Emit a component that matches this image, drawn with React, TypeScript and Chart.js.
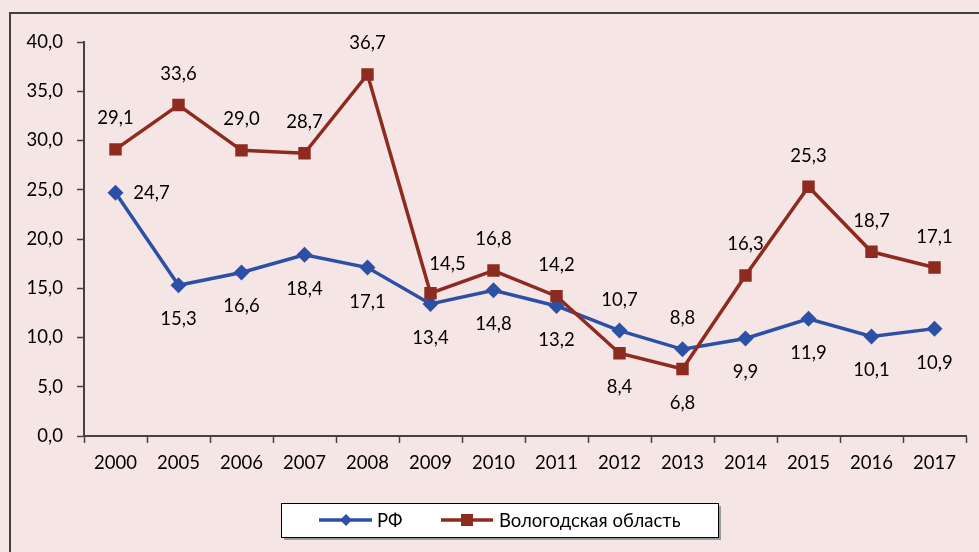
import React, { useEffect, useRef } from "react";
import { Chart, registerables } from "chart.js";

Chart.register(...registerables);

const years = ["2000", "2005", "2006", "2007", "2008", "2009", "2010", "2011", "2012", "2013", "2014", "2015", "2016", "2017"];
const rfValues = [24.7, 15.3, 16.6, 18.4, 17.1, 13.4, 14.8, 13.2, 10.7, 8.8, 9.9, 11.9, 10.1, 10.9];
const vologdaValues = [29.1, 33.6, 29.0, 28.7, 36.7, 14.5, 16.8, 14.2, 8.4, 6.8, 16.3, 25.3, 18.7, 17.1];
const rfLabelPos = ["r", "b", "b", "b", "b", "b", "b", "b", "a", "a", "b", "b", "b", "b"];
const vologdaLabelPos = ["a", "a", "a", "a", "a", "ar", "a", "a", "b", "b", "a", "a", "a", "a"];
const seriesNames = ["РФ", "Вологодская область"];

const BLUE = "#2B50A5";
const RED = "#8E2B1F";
const BG = "#F6E5E5";
const AXIS = "#454045";
const FONT = "Lato, 'Noto Sans', sans-serif";
const FS = 18.5;

const fmt = (v: number) => v.toFixed(1).replace(".", ",");

const bgPlugin = {
  id: "bg",
  beforeDraw(chart: any) {
    const ctx = chart.ctx;
    ctx.save();
    ctx.fillStyle = BG;
    ctx.fillRect(0, 0, chart.width, chart.height);
    ctx.strokeStyle = "#3F3F3F";
    ctx.lineWidth = 2;
    ctx.beginPath();
    ctx.moveTo(10, chart.height + 5);
    ctx.lineTo(10, 13);
    ctx.lineTo(chart.width + 5, 13);
    ctx.stroke();
    ctx.restore();
  },
};

const labelsPlugin = {
  id: "dlabels",
  afterDatasetsDraw(chart: any) {
    const ctx = chart.ctx;
    ctx.save();
    ctx.font = `${FS}px ${FONT}`;
    ctx.fillStyle = "#000";
    ctx.textAlign = "center";
    ctx.textBaseline = "middle";
    chart.data.datasets.forEach((ds: any, di: number) => {
      const meta = chart.getDatasetMeta(di);
      const pos = ds.labelPos as string[];
      meta.data.forEach((pt: any, i: number) => {
        let dx = 0, dy = 0;
        const p = pos[i];
        if (p === "a") dy = -31;
        else if (p === "b") dy = 34;
        else if (p === "r") dx = 36;
        else if (p === "ar") { dx = 17; dy = -29; }
        ctx.fillText(fmt(ds.data[i]), pt.x + dx, pt.y + dy);
      });
    });
    ctx.restore();
  },
};

const legendPlugin = {
  id: "customLegend",
  afterDraw(chart: any) {
    const ctx = chart.ctx;
    ctx.save();
    const x = 281, y = 503, w = 437, h = 34;
    ctx.fillStyle = "#9A9A9A";
    ctx.fillRect(x + 3, y + 3, w, h);
    ctx.fillStyle = "#FFFFFF";
    ctx.fillRect(x, y, w, h);
    ctx.strokeStyle = "#000";
    ctx.lineWidth = 1;
    ctx.strokeRect(x + 0.5, y + 0.5, w, h);
    const cy = y + h / 2;
    ctx.strokeStyle = BLUE;
    ctx.lineWidth = 3.5;
    ctx.beginPath();
    ctx.moveTo(319, cy);
    ctx.lineTo(372, cy);
    ctx.stroke();
    ctx.fillStyle = BLUE;
    ctx.beginPath();
    ctx.moveTo(346 - 6, cy);
    ctx.lineTo(346, cy - 6);
    ctx.lineTo(346 + 6, cy);
    ctx.lineTo(346, cy + 6);
    ctx.closePath();
    ctx.fill();
    ctx.strokeStyle = RED;
    ctx.beginPath();
    ctx.moveTo(441, cy);
    ctx.lineTo(493, cy);
    ctx.stroke();
    ctx.fillStyle = RED;
    ctx.fillRect(467 - 6, cy - 6, 12, 12);
    ctx.fillStyle = "#000";
    ctx.font = `${FS}px ${FONT}`;
    ctx.textAlign = "left";
    ctx.textBaseline = "middle";
    ctx.fillText(seriesNames[0], 377, cy + 1);
    ctx.fillText(seriesNames[1], 499, cy + 1);
    ctx.restore();
  },
};

export default function App() {
  const ref = useRef<HTMLCanvasElement>(null);
  useEffect(() => {
    document.body.style.margin = "0";
    const canvas = ref.current!;
    const chart = new Chart(canvas, {
      type: "line",
      data: {
        labels: years,
        datasets: [
          {
            label: seriesNames[0],
            data: rfValues,
            borderColor: BLUE,
            backgroundColor: BLUE,
            borderWidth: 3.5,
            pointStyle: "rectRot",
            pointRadius: 8,
            pointBorderWidth: 0,
            pointBackgroundColor: BLUE,
            tension: 0,
            order: 1,
            labelPos: rfLabelPos,
          } as any,
          {
            label: seriesNames[1],
            data: vologdaValues,
            borderColor: RED,
            backgroundColor: RED,
            borderWidth: 3.5,
            pointStyle: "rect",
            pointRadius: 8.8,
            pointBorderWidth: 0,
            pointBackgroundColor: RED,
            tension: 0,
            order: 0,
            labelPos: vologdaLabelPos,
          } as any,
        ],
      },
      options: {
        animation: false,
        responsive: false,
        maintainAspectRatio: false,
        layout: { padding: { left: 0, right: 13, top: 42, bottom: 0 } },
        plugins: {
          legend: { display: false },
          tooltip: { enabled: false },
        },
        scales: {
          x: {
            type: "category",
            offset: true,
            grid: {
              offset: true,
              drawOnChartArea: false,
              tickLength: 7,
              tickColor: AXIS,
              tickWidth: 1.5,
            },
            border: { color: AXIS, width: 2 },
            ticks: {
              color: "#000",
              font: { family: FONT, size: FS },
              padding: 9,
              maxRotation: 0,
              autoSkip: false,
            },
            afterFit(scale: any) {
              scale.height = 552 - 436;
            },
          },
          y: {
            min: 0,
            max: 40,
            grid: {
              drawOnChartArea: false,
              tickLength: 7,
              tickColor: AXIS,
              tickWidth: 1.5,
            },
            border: { color: AXIS, width: 2 },
            ticks: {
              stepSize: 5,
              color: "#000",
              font: { family: FONT, size: FS },
              padding: 14,
              callback: (v: any) => fmt(Number(v)),
            },
            afterFit(scale: any) {
              scale.width = 84;
            },
          },
        },
      },
      plugins: [bgPlugin, labelsPlugin, legendPlugin],
    });
    return () => chart.destroy();
  }, []);
  return <canvas ref={ref} width={979} height={552} style={{ display: "block" }} />;
}
